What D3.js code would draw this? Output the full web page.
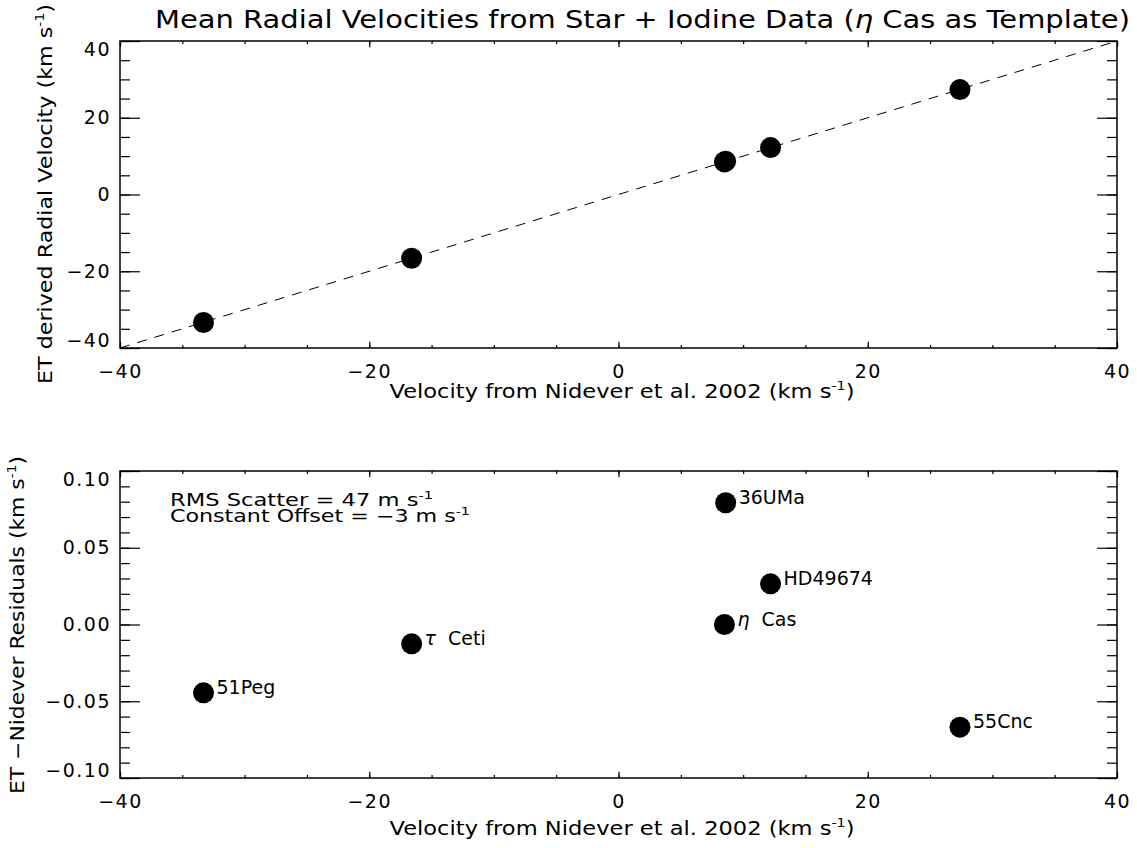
<!DOCTYPE html>
<html>
<head>
<meta charset="utf-8">
<script src="https://cdn.jsdelivr.net/npm/d3@7"></script>
<style>
  body { margin: 0; background: #fff; }
  text { font-family: "DejaVu Sans", sans-serif; fill: #000; }
</style>
</head>
<body>
<script>
// star data
const starNames = ["51Peg", "τ Ceti", "η Cas", "36UMa", "HD49674", "55Cnc"];
const nideverVel = [-33.3, -16.6, 8.5, 8.6, 12.2, 27.4];
const etVel = [-33.35, -16.61, 8.5, 8.68, 12.23, 27.33];
const residuals = [-0.0445, -0.0126, 0.0, 0.0793, 0.0265, -0.0669];

const xTicks = [-40, -20, 0, 20, 40];
const topYTicks = [-40, -20, 0, 20, 40];
const botYTicks = [-0.10, -0.05, 0.00, 0.05, 0.10];

const width = 1137, height = 848;
const svg = d3.select("body").append("svg").attr("width", width).attr("height", height);

function addUnits(sel, before) {
    // "(km s^-1)" with a raised -1
    sel.append("tspan").text(before + "(km s");
    sel.append("tspan").attr("dy", -8).attr("font-size", "12px").text("-1");
    sel.append("tspan").attr("dy", 8).text(")");
}

function panel(opts) {
    var x = d3.scaleLinear().domain([-40, 40]).range([120, 1117]);
    var y = d3.scaleLinear().domain(opts.ydom).range([opts.bottom, opts.top]);
    var g = svg.append("g");
    var h = opts.bottom - opts.top, w = 1117 - 120;
    var xl = 0.02 * h, yl = 0.02 * w;

    var xMinor = d3.range(-40, 40.01, 5);
    var yMinor = d3.range(0, 41).map(i => opts.ydom[0] + i * opts.ystep).filter(v => v <= opts.ydom[1] + 1e-9);

    function styleAxis(a) {
        a.select(".domain").remove();
        a.selectAll("line").attr("stroke", "#000").attr("stroke-width", 1.2);
        a.selectAll("text").attr("font-size", "19px").attr("letter-spacing", "1.5px")
            .attr("font-family", "DejaVu Sans").attr("fill", "#000");
    }

    // minor ticks on all four sides
    [[d3.axisBottom(x), "translate(0," + opts.bottom + ")", xl / 2, xMinor],
     [d3.axisTop(x), "translate(0," + opts.top + ")", xl / 2, xMinor],
     [d3.axisLeft(y), "translate(120,0)", yl / 2, yMinor],
     [d3.axisRight(y), "translate(1117,0)", yl / 2, yMinor]].forEach(function (c) {
        var a = g.append("g").attr("transform", c[1])
            .call(c[0].tickValues(c[3]).tickSize(-c[2]).tickFormat(""));
        styleAxis(a);
    });

    // major ticks, labelled on bottom and left
    var ax = g.append("g").attr("transform", "translate(0," + opts.bottom + ")")
        .call(d3.axisBottom(x).tickValues(xTicks).tickSize(-xl).tickPadding(17)
            .tickFormat(d => d3.format("d")(d).replace("-", "−")));
    styleAxis(ax);
    var at = g.append("g").attr("transform", "translate(0," + opts.top + ")")
        .call(d3.axisTop(x).tickValues(xTicks).tickSize(-xl).tickFormat(""));
    styleAxis(at);
    var ay = g.append("g").attr("transform", "translate(120,0)")
        .call(d3.axisLeft(y).tickValues(opts.yticks).tickSize(-yl).tickPadding(9)
            .tickFormat(d => opts.yfmt(d).replace("-", "−")));
    styleAxis(ay);
    // keep end labels inside the box height
    ay.selectAll(".tick text").attr("dy", function (d) {
        var py = y(d);
        if (py - opts.top < 8) return (8 - (py - opts.top)) / 19 + 0.32 + "em";
        if (opts.bottom - py < 8) return 0.32 - (8 - (opts.bottom - py)) / 19 + "em";
        return "0.32em";
    });
    var ar = g.append("g").attr("transform", "translate(1117,0)")
        .call(d3.axisRight(y).tickValues(opts.yticks).tickSize(-yl).tickFormat(""));
    styleAxis(ar);

    g.append("rect").attr("x", 120).attr("y", opts.top).attr("width", w).attr("height", h)
        .attr("fill", "none").attr("stroke", "#000").attr("stroke-width", 1.5);

    // axis titles
    var xt = g.append("text").attr("x", 622).attr("y", opts.bottom + opts.xtitleOff)
        .attr("text-anchor", "middle").attr("font-size", "19px")
        .attr("textLength", 465).attr("lengthAdjust", "spacingAndGlyphs");
    addUnits(xt, "Velocity from Nidever et al. 2002 ");
    var yt = g.append("text")
        .attr("transform", "translate(" + opts.ytitleX + "," + opts.ytitleY + ") rotate(-90)")
        .attr("text-anchor", "middle").attr("font-size", "19px")
        .attr("textLength", opts.ytitleLen).attr("lengthAdjust", "spacingAndGlyphs");
    addUnits(yt, opts.ytitle);

    return { x: x, y: y, g: g };
}

// title
var title = svg.append("text").attr("x", 155).attr("y", 28).attr("font-size", "24px")
    .attr("textLength", 975).attr("lengthAdjust", "spacingAndGlyphs");
title.append("tspan").text("Mean Radial Velocities from Star + Iodine Data (");
title.append("tspan").attr("font-style", "italic").text("η");
title.append("tspan").text(" Cas as Template)");

// top panel
var p1 = panel({
    top: 41, bottom: 348, ydom: [-40, 40], ystep: 5, yticks: topYTicks,
    yfmt: d3.format("d"), xtitleOff: 50, ytitle: "ET derived Radial Velocity ",
    ytitleX: 52, ytitleY: 194, ytitleLen: 380
});

p1.g.append("line")
    .attr("x1", p1.x(-40)).attr("y1", p1.y(-40))
    .attr("x2", p1.x(40)).attr("y2", p1.y(40))
    .attr("stroke", "#000").attr("stroke-width", 1).attr("stroke-dasharray", "10,8");

p1.g.selectAll("circle").data(nideverVel).enter().append("circle")
    .attr("cx", d => p1.x(d))
    .attr("cy", (d, i) => p1.y(etVel[i]))
    .attr("r", 10.5).attr("fill", "#000");

// bottom panel
var p2 = panel({
    top: 471, bottom: 778, ydom: [-0.10, 0.10], ystep: 0.01, yticks: botYTicks,
    yfmt: d3.format(".2f"), xtitleOff: 57, ytitle: "ET −Nidever Residuals ",
    ytitleX: 24, ytitleY: 625, ytitleLen: 338
});

p2.g.selectAll("circle").data(nideverVel).enter().append("circle")
    .attr("cx", d => p2.x(d))
    .attr("cy", (d, i) => p2.y(residuals[i]))
    .attr("r", 10.5).attr("fill", "#000");

p2.g.selectAll("text.star").data(starNames).enter().append("text")
    .attr("class", "star")
    .attr("x", (d, i) => p2.x(nideverVel[i]) + 13)
    .attr("y", (d, i) => p2.y(residuals[i]) + 1)
    .attr("font-size", "19px")
    .each(function (d) {
        var t = d3.select(this);
        if (d[0] == "τ" || d[0] == "η") {
            t.append("tspan").attr("font-style", "italic").text(d[0]);
            t.append("tspan").attr("dx", 6).text(d.slice(1));
        } else {
            t.text(d);
        }
    });

// fit summary
var note = p2.g.append("text").attr("x", 170).attr("y", 506).attr("font-size", "17px")
    .attr("textLength", 263).attr("lengthAdjust", "spacingAndGlyphs");
note.append("tspan").text("RMS Scatter = 47 m s");
note.append("tspan").attr("dy", -7).attr("font-size", "11px").text("-1");
var note2 = p2.g.append("text").attr("x", 170).attr("y", 522).attr("font-size", "17px")
    .attr("textLength", 300).attr("lengthAdjust", "spacingAndGlyphs");
note2.append("tspan").text("Constant Offset = −3 m s");
note2.append("tspan").attr("dy", -7).attr("font-size", "11px").text("-1");
</script>
</body>
</html>
